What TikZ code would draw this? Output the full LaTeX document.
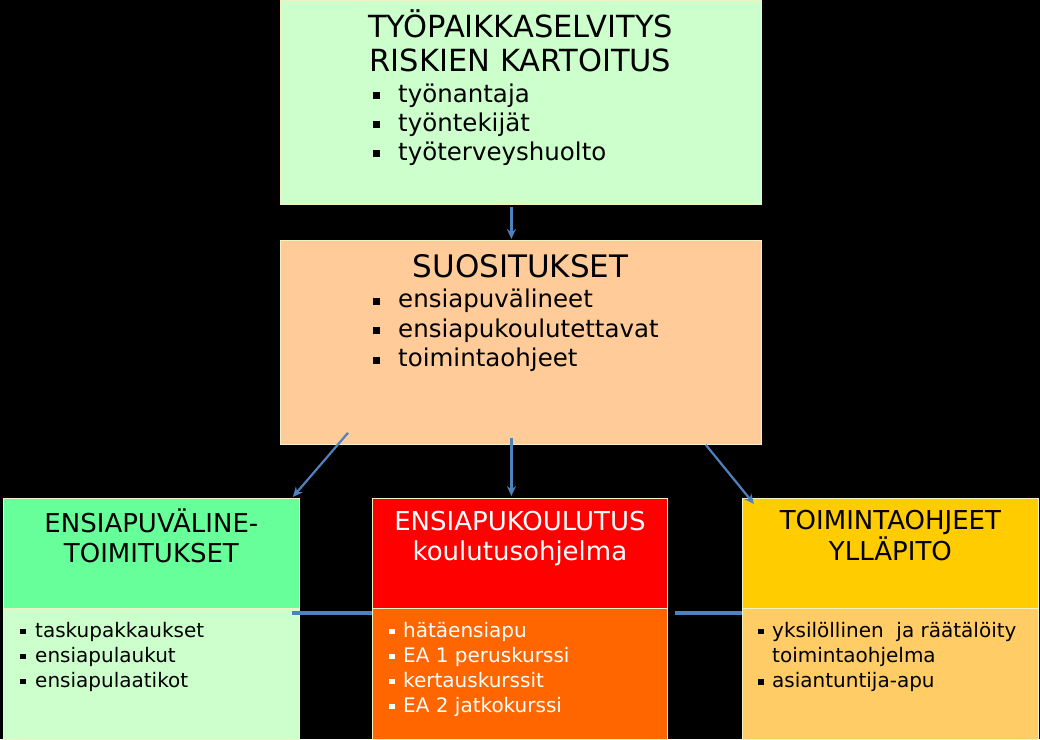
\documentclass[tikz,border=0pt]{standalone}
\usepackage{fontspec}
\setmainfont{DejaVu Sans}
\usetikzlibrary{arrows.meta}

\definecolor{paleGreen}{HTML}{CCFFCC}
\definecolor{mintGreen}{HTML}{66FF99}
\definecolor{peach}{HTML}{FFCC99}
\definecolor{fireRed}{HTML}{FF0000}
\definecolor{deepOrange}{HTML}{FF6600}
\definecolor{gold}{HTML}{FFCC00}
\definecolor{paleGold}{HTML}{FFCC66}
\definecolor{linkBlue}{HTML}{4F81BD}
\definecolor{boxEdge}{HTML}{F2F2C0}

% bullet square + gap
\newcommand\bigbul{\makebox[26pt][l]{\hspace{1pt}\rule[3pt]{7pt}{7pt}}}
\newcommand\smallbul[1]{\makebox[14pt][l]{#1}}

\begin{document}
\begin{tikzpicture}[x=1pt, y=-1pt, >=Stealth,
    box/.style={draw=boxEdge, line width=0.8pt, anchor=north west, inner sep=0pt},
    title/.style={anchor=base, inner sep=0pt, font=\fontsize{30.5}{34}\selectfont},
    item/.style={anchor=base west, inner sep=0pt, font=\fontsize{24.5}{29}\selectfont},
    subtitle/.style={anchor=base, inner sep=0pt, font=\fontsize{26}{30}\selectfont},
    subitem/.style={anchor=base west, inner sep=0pt, font=\fontsize{20}{25}\selectfont},
    arrow/.style={-{Stealth[length=10pt, width=9pt]}, draw=linkBlue, line width=2.2pt},
    link/.style={draw=linkBlue, line width=3.5pt}]

    \fill[black] (0,0) rectangle (1040,739);
    \useasboundingbox (0,0) rectangle (1040,739);

    % upper boxes
    \node[box, fill=paleGreen, minimum width=481pt, minimum height=204pt] (tyo) at (280,0) {};
    \node[box, fill=peach, minimum width=481pt, minimum height=204pt] (suo) at (280,240) {};

    % lower boxes: head + body
    \node[box, fill=mintGreen, minimum width=296pt, minimum height=110pt] (vhead) at (3,498) {};
    \node[box, fill=paleGreen, minimum width=296pt, minimum height=131pt] (vbody) at (3,608) {};
    \node[box, fill=fireRed, minimum width=295pt, minimum height=110pt] (khead) at (372,498) {};
    \node[box, fill=deepOrange, minimum width=295pt, minimum height=131pt] (kbody) at (372,608) {};
    \node[box, fill=gold, minimum width=296pt, minimum height=110pt] (thead) at (742,498) {};
    \node[box, fill=paleGold, minimum width=296pt, minimum height=131pt] (tbody) at (742,608) {};

    % texts
    \node[title] (tyo-t1) at (520.5,37) {TYÖPAIKKASELVITYS};
    \node[title] (tyo-t2) at (520.5,71) {RISKIEN KARTOITUS};
    \foreach \t [count=\i] in {työnantaja, työntekijät, työterveyshuolto}
        \node[item] (tyo-i\i) at (372,{73+29*\i}) {\bigbul\t};

    \node[title, font=\fontsize{31}{34}\selectfont] (suo-t) at (520.5,277) {SUOSITUKSET};
    \foreach \t [count=\i] in {ensiapuvälineet, ensiapukoulutettavat, toimintaohjeet}
        \node[item] (suo-i\i) at (372,{278+29.5*\i}) {\bigbul\t};

    \node[subtitle] (v-t1) at (vhead.north |- 0,532) {ENSIAPUVÄLINE-};
    \node[subtitle] (v-t2) at (vhead.north |- 0,562) {TOIMITUKSET};
    \foreach \t [count=\i] in {taskupakkaukset, ensiapulaukut, ensiapulaatikot}
        \node[subitem] (v-i\i) at (20,{612+25*\i}) {\makebox[15pt][l]{\rule[3pt]{5.5pt}{5.5pt}}\t};

    \node[subtitle, text=white] (k-t1) at (khead.north |- 0,530) {ENSIAPUKOULUTUS};
    \node[subtitle, text=white] (k-t2) at (khead.north |- 0,560) {koulutusohjelma};
    \foreach \t [count=\i] in {hätäensiapu, EA 1 peruskurssi, kertauskurssit, EA 2 jatkokurssi}
        \node[subitem, text=white] (k-i\i) at (389,{612+25*\i}) {\smallbul{\rule[3pt]{5.5pt}{5.5pt}}\t};

    \node[subtitle] (t-t1) at (thead.north |- 0,529) {TOIMINTAOHJEET};
    \node[subtitle] (t-t2) at (thead.north |- 0,560) {YLLÄPITO};
    \foreach \b/\t [count=\i] in {1/yksilöllinen\ \ ja räätälöity, 0/toimintaohjelma, 1/asiantuntija-apu}
        \node[subitem] (t-i\i) at (758,{612+25.3*\i})
            {\smallbul{\ifnum\b=1 \rule[3pt]{5.5pt}{5.5pt}\fi}\t};

    % connectors
    \draw[arrow] ([xshift=-9.5pt, yshift=-2pt]tyo.south) -- ([xshift=-9.5pt, yshift=1pt]suo.north);
    \draw[arrow] ([xshift=68pt, yshift=12pt]suo.south west) -- ([xshift=-7pt, yshift=1pt]vhead.north east);
    \draw[arrow] ([xshift=-9.5pt, yshift=7pt]suo.south) -- ([xshift=-8.5pt, yshift=2pt]khead.north);
    \draw[arrow] ([xshift=-56pt]suo.south east) -- ([xshift=12pt, yshift=-6pt]thead.north west);
    \draw[link] ([xshift=-8pt, yshift=-5pt]vbody.north east) -- ([yshift=-5pt]kbody.north west);
    \draw[link] ([xshift=7pt, yshift=-5pt]kbody.north east) -- ([yshift=-5pt]tbody.north west);
\end{tikzpicture}
\end{document}
